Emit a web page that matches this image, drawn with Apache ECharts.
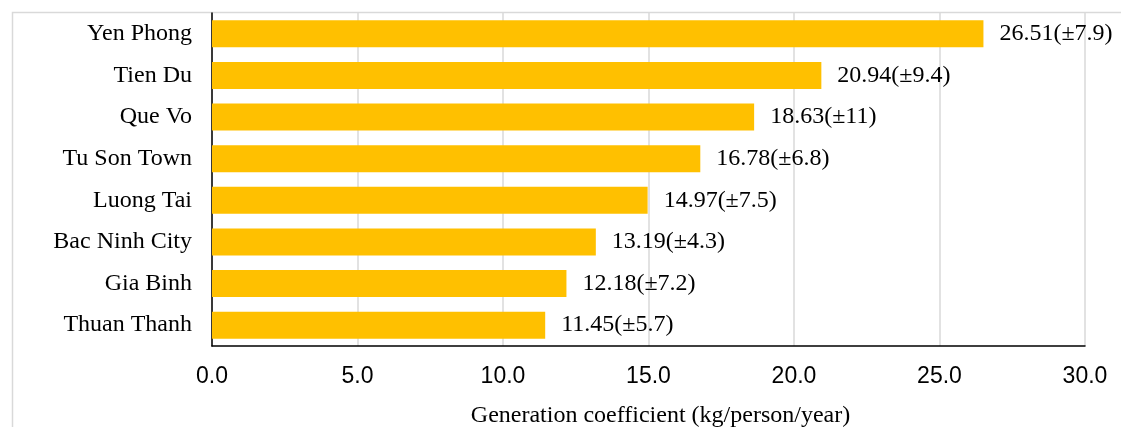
<!DOCTYPE html>
<html>
<head>
<meta charset="utf-8">
<script src="https://cdn.jsdelivr.net/npm/echarts@6/dist/echarts.min.js"></script>
<style>
  html, body { margin: 0; padding: 0; background: #ffffff; }
  #chart { width: 1121px; height: 427px; }
</style>
</head>
<body>
<div id="chart"></div>
<script>
// Districts, top to bottom
const districts = ['Yen Phong', 'Tien Du', 'Que Vo', 'Tu Son Town', 'Luong Tai', 'Bac Ninh City', 'Gia Binh', 'Thuan Thanh'];
// Mean generation coefficient (kg/person/year)
const meanValues = [26.51, 20.94, 18.63, 16.78, 14.97, 13.19, 12.18, 11.45];
// Standard deviation shown beside each mean
const stdDev = ['7.9', '9.4', '11', '6.8', '7.5', '4.3', '7.2', '5.7'];
// Value axis ticks
const axisMin = 0, axisMax = 30, axisStep = 5;

const serif = '"Liberation Serif", "Times New Roman", serif';
const sans = '"Liberation Sans", Arial, sans-serif';

const chart = echarts.init(document.getElementById('chart'), null, { renderer: 'canvas' });

chart.setOption({
  animation: false,
  backgroundColor: '#ffffff',
  graphic: [{
    type: 'rect',
    left: 10, top: 10,
    shape: { width: 1200, height: 500 },
    style: { fill: 'none', stroke: '#d9d9d9', lineWidth: 1.5 },
    silent: true,
    z: -1
  }],
  grid: { left: 212, right: 36, top: 13, bottom: 81, containLabel: false, outerBoundsMode: 'none' },
  xAxis: {
    type: 'value',
    min: axisMin, max: axisMax, interval: axisStep,
    name: 'Generation coefficient (kg/person/year)',
    nameLocation: 'middle',
    nameGap: 58,
    nameTextStyle: { fontFamily: serif, fontSize: 24, color: '#000', padding: [0, 0, 0, 24] },
    axisLine: { show: true, lineStyle: { color: '#000', width: 1.5 } },
    axisTick: { show: false },
    axisLabel: {
      fontFamily: sans, fontSize: 23, color: '#000', margin: 19,
      formatter: v => v.toFixed(1)
    },
    splitLine: { show: true, lineStyle: { color: '#d9d9d9', width: 1.5 } }
  },
  yAxis: {
    type: 'category',
    data: districts,
    inverse: true,
    axisLine: { show: true, lineStyle: { color: '#000', width: 1.5 } },
    axisTick: { show: false },
    axisLabel: { fontFamily: serif, fontSize: 24, color: '#000', margin: 20 },
    splitLine: { show: false }
  },
  series: [{
    type: 'bar',
    data: meanValues,
    barCategoryGap: '35%',
    itemStyle: { color: '#FFC000' },
    label: {
      show: true,
      position: 'right',
      distance: 16,
      fontFamily: serif, fontSize: 24, color: '#000',
      formatter: p => meanValues[p.dataIndex].toFixed(2) + '(±' + stdDev[p.dataIndex] + ')'
    }
  }]
});
</script>
</body>
</html>
